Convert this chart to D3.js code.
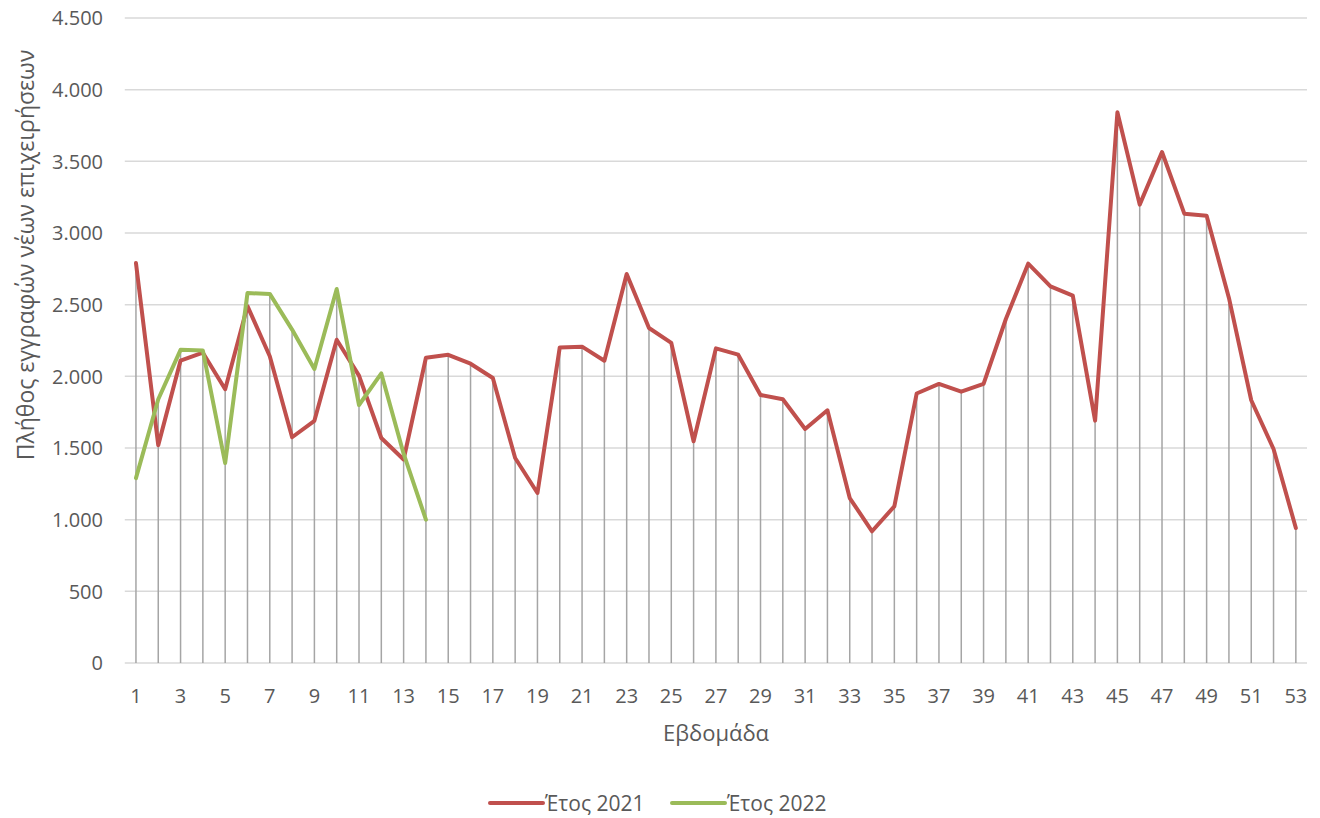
<!DOCTYPE html>
<html>
<head>
<meta charset="utf-8">
<script src="https://cdn.jsdelivr.net/npm/d3@7/dist/d3.min.js"></script>
<style>
  html, body { margin: 0; padding: 0; background: #fff; }
  svg { display: block; font-family: "Open Sans", "Noto Sans", sans-serif; }
</style>
</head>
<body>
<svg id="chart" width="1320" height="818"></svg>
<script>
const weeks = d3.range(1, 54);
const series2021 = [2790,1520,2110,2165,1910,2490,2140,1575,1690,2255,2005,1570,1420,2130,2150,2088,1988,1430,1186,2202,2207,2109,2714,2337,2233,1547,2195,2151,1870,1840,1633,1763,1151,919,1093,1880,1947,1893,1948,2400,2786,2628,2563,1691,3842,3198,3565,3135,3121,2547,1833,1493,942];
const series2022 = [1290,1840,2185,2180,1395,2581,2575,2326,2051,2609,1800,2020,1460,1000];
const yTicks = [0,500,1000,1500,2000,2500,3000,3500,4000,4500];
const xTickLabels = weeks.filter(w => w % 2 === 1);
const seriesNames = ["Έτος 2021", "Έτος 2022"];
const seriesColors = ["#C0504D", "#9BBB59"];
const yTitle = "Πλήθος εγγραφών νέων επιχειρήσεων";
const xTitle = "Εβδομάδα";

(function () {
const svg = d3.select("#chart");
const pLeft = 124.8, pRight = 1307, pTop = 18, pBottom = 663;
const x = d3.scaleLinear().domain([0.5, 53.5]).range([pLeft, pRight]);
const y = d3.scaleLinear().domain([0, 4500]).range([pBottom, pTop]);
const fmt = d3.formatLocale({decimal: ",", thousands: ".", grouping: [3], currency: ["", "€"]}).format(",d");
const textColor = "#595959";

// gridlines
svg.append("g").selectAll("line").data(yTicks).join("line")
  .attr("x1", pLeft).attr("x2", pRight)
  .attr("y1", d => y(d)).attr("y2", d => y(d))
  .attr("stroke", "#d9d9d9").attr("stroke-width", 1.5);

// y tick labels
svg.append("g").selectAll("text").data(yTicks).join("text")
  .attr("x", 103).attr("y", d => y(d)).attr("dy", "0.36em")
  .attr("text-anchor", "end").attr("fill", textColor).attr("font-size", 20)
  .text(d => fmt(d));

// drop lines
const all = [series2021, series2022];
const dropData = weeks.map((w, i) => ({w, v: d3.max(all, s => s[i] !== undefined ? s[i] : 0)}));
svg.append("g").selectAll("line").data(dropData).join("line")
  .attr("x1", d => x(d.w)).attr("x2", d => x(d.w))
  .attr("y1", d => y(d.v)).attr("y2", y(0))
  .attr("stroke", "#a5a5a5").attr("stroke-width", 1.5);

// x tick labels
svg.append("g").selectAll("text").data(xTickLabels).join("text")
  .attr("x", d => x(d)).attr("y", 703)
  .attr("text-anchor", "middle").attr("fill", textColor).attr("font-size", 20)
  .text(d => d);

// lines
const line = d3.line().x((d, i) => x(weeks[i])).y(d => y(d));
all.forEach((s, k) => {
  svg.append("path").datum(s)
    .attr("d", line).attr("fill", "none")
    .attr("stroke", seriesColors[k]).attr("stroke-width", 4)
    .attr("stroke-linejoin", "round").attr("stroke-linecap", "round");
});

// axis titles
svg.append("text").attr("x", 716).attr("y", 741)
  .attr("text-anchor", "middle").attr("fill", textColor).attr("font-size", 22)
  .text(xTitle);
svg.append("text")
  .attr("transform", "translate(34,255) rotate(-90)")
  .attr("text-anchor", "middle").attr("fill", textColor).attr("font-size", 23)
  .text(yTitle);

// legend
const legendItems = [{x0: 490, name: seriesNames[0], color: seriesColors[0]}, {x0: 672, name: seriesNames[1], color: seriesColors[1]}];
const lg = svg.append("g").selectAll("g").data(legendItems).join("g");
lg.append("line").attr("x1", d => d.x0).attr("x2", d => d.x0 + 53)
  .attr("y1", 803).attr("y2", 803)
  .attr("stroke", d => d.color).attr("stroke-width", 4).attr("stroke-linecap", "round");
lg.append("text").attr("x", d => d.x0 + 55).attr("y", 803).attr("dy", "0.36em")
  .attr("fill", textColor).attr("font-size", 21).text(d => d.name);
})();
</script>
</body>
</html>
